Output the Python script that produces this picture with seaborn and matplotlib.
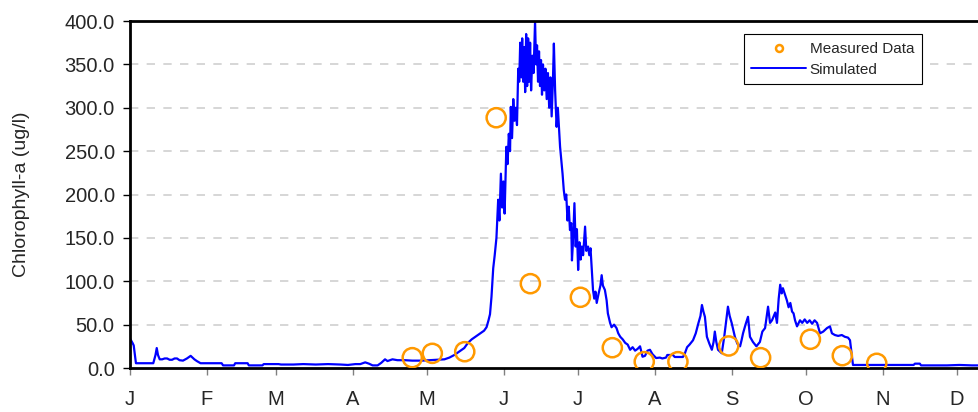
import numpy as np
import pandas as pd
import matplotlib
matplotlib.use("Agg")
import matplotlib.pyplot as plt
from matplotlib.lines import Line2D
from matplotlib.ticker import FormatStrFormatter
import seaborn as sns

# Month labels and day-of-year where each month starts
month_labels = ['J', 'F', 'M', 'A', 'M', 'J', 'J', 'A', 'S', 'O', 'N', 'D']
month_starts = [0, 31, 59, 90, 120, 151, 181, 212, 243, 273, 304, 334]

# Measured chlorophyll-a samples (day of year, ug/l)
meas_day = [114.0, 122.1, 135.2, 147.9, 161.7, 181.9, 194.8, 207.7, 221.3,
            241.8, 254.7, 274.8, 287.7, 301.6]
meas_val = [11.9, 16.9, 18.8, 288.5, 97.2, 81.5, 23.4, 7.3, 7.3,
            25.4, 11.9, 33.1, 14.2, 5.4]

# Simulated series (day of year, ug/l)
sim_day = [0, 1, 1.5, 2.4, 9.4, 10.3, 10.8, 11.3, 12, 13, 14, 15, 16, 17, 18, 19, 20,
           21.4, 23, 24.5, 26, 27, 28.5, 37, 37.6, 42, 42.5, 47.5, 48, 53.5, 54, 60, 61,
           66, 70, 75, 80, 85, 88, 91, 93, 95, 96.5, 98, 100, 101.5, 103, 104, 106, 108,
           111, 114, 118, 121, 124, 127, 129, 131, 133, 135, 136.5, 138, 140, 141.5, 143,
           144, 144.8, 145.4, 146, 146.7, 147.3, 148, 148.7, 149.2, 149.8, 150.3, 150.8,
           151.3, 152, 152.5, 153, 153.5, 153.8, 154.3, 154.8, 155.3, 155.8, 156.3, 156.8,
           157.2, 157.6, 158, 158.4, 158.8, 159.2, 159.6, 160, 160.4, 160.8, 161.2, 161.6,
           162, 162.5, 163, 163.6, 164, 164.4, 164.8, 165.2, 165.6, 166, 166.4, 166.8,
           167.3, 167.8, 168.3, 168.8, 169.3, 169.8, 170.3, 170.8, 171.2, 171.7, 172.3,
           172.8, 173.7, 174.7, 175.2, 175.7, 176.2, 176.7, 177.2, 177.7, 178.2, 178.5,
           179, 179.5, 180, 180.5, 181, 181.5, 182, 182.5, 183, 183.8, 184.3, 185, 185.5,
           186, 186.5, 187, 187.5, 188, 188.5, 189.2, 190, 190.5, 191, 191.8, 192.5, 193,
           193.9, 194.5, 195.5, 196.5, 197.2, 198, 199, 200, 201, 202, 203, 204, 205, 206,
           207, 208, 209, 210, 211, 212.5, 214, 215, 216.5, 217, 219.3, 220, 223.3, 224,
           225, 226, 227.4, 228.5, 229.6, 230.4, 231, 231.6, 232.2, 233, 234, 235, 235.7,
           236.2, 236.8, 237.5, 239, 240, 240.8, 241.5, 242.2, 243, 244.3, 245.3, 246.4,
           247, 247.6, 248.6, 249.6, 250.4, 251.6, 253, 254.4, 255.4, 256.5, 257.2, 257.7,
           258.5, 259.3, 260.6, 261.3, 262, 262.6, 263.2, 263.7, 264.5, 265.3, 266, 266.7,
           267.4, 268, 268.6, 269.4, 270.6, 271.5, 272.5, 273.5, 274.5, 275.5, 276.5,
           277.5, 278.7, 280, 281.5, 282.7, 283.5, 284.7, 286, 287.5, 288.7, 290, 290.8,
           292, 300, 316.5, 317, 319, 319.5, 330, 335, 340, 343]
sim_val = [34, 29, 26, 5.5, 5.5, 15, 23, 15, 10, 10, 11, 11, 9.5, 9.5, 11, 11, 9,
           8.5, 11, 14, 10, 8, 5.5, 5.5, 3, 3, 5.5, 5.5, 3, 3, 4.5, 4.5, 4,
           4, 4.5, 4, 4.5, 4, 3.5, 4.5, 4.5, 6.5, 5, 3, 3, 6, 10, 8, 10, 9,
           9, 8.5, 8.5, 9, 9.5, 10, 12, 15, 19, 23, 29, 33, 37, 40, 43,
           47, 55, 62, 82, 115, 130, 150, 194, 170, 224, 185, 215,
           178, 255, 235, 270, 250, 301, 265, 310, 285, 300, 280, 345,
           330, 375, 335, 380, 330, 370, 318, 385, 325, 380, 330, 375,
           320, 360, 340, 400, 350, 372, 330, 365, 325, 355, 315, 350,
           320, 345, 310, 340, 300, 335, 290, 330, 374, 320, 278,
           300, 255, 224, 205, 194, 200, 170, 186, 159, 167, 124,
           150, 190, 140, 160, 113, 145, 125, 140, 130, 163, 135, 140, 130,
           138, 113, 90, 80, 88, 75, 85, 95, 107, 95, 90, 78, 63,
           52, 47, 50, 46, 40, 36, 33, 29, 27, 21, 24, 20, 22, 25,
           13, 14, 20, 21, 16, 11.5, 12, 11, 12, 15, 15, 12.7, 12.7, 16,
           24, 27, 32, 40, 52, 60, 72.6, 65, 59, 36, 28, 21, 30,
           42, 30, 21, 17, 36, 55, 70.7, 60, 52, 36, 28, 25,
           32, 40, 50, 59, 36, 30, 25, 30, 42, 46, 60, 70.7,
           52, 55, 64, 52, 80, 96, 86, 92, 85, 78, 70, 75,
           65, 63, 55, 48, 55, 52, 56, 52, 55, 51, 55,
           52, 40, 42, 46, 48, 40, 38, 37, 38, 36, 35, 32,
           3.5, 3.5, 3.5, 5, 5, 3, 3, 3.5, 3, 3]

sim = pd.DataFrame({'day': sim_day, 'chl': sim_val})
meas = pd.DataFrame({'day': meas_day, 'chl': meas_val})

sns.set_style('white')
plt.rcParams['font.family'] = ['Liberation Sans', 'DejaVu Sans']

fig = plt.figure(figsize=(9.79, 4.12), dpi=100)
ax = fig.add_axes([130 / 979, 1 - 368 / 412, 849 / 979, 347 / 412])

# dashed horizontal gridlines
for yv in range(50, 400, 50):
    ax.axhline(yv, color='#d0d0d0', lw=1.2, ls=(0, (5, 5)), zorder=0)

sns.lineplot(data=sim, x='day', y='chl', ax=ax, color='#0000ff', lw=1.6,
             estimator=None, sort=False, zorder=2)
sns.scatterplot(data=meas, x='day', y='chl', ax=ax, marker='o', s=190,
                facecolor='none', edgecolor='#ff9900', linewidth=1.8, zorder=3)

ax.set_xlim(0, 342.9)
ax.set_ylim(0, 400)
ax.set_xticks(month_starts)
ax.set_xticklabels(month_labels)
ax.set_yticks(np.arange(0, 401, 50))
ax.yaxis.set_major_formatter(FormatStrFormatter('%.1f'))
ax.set_xlabel('')
ax.set_ylabel('Chlorophyll-a (ug/l)', fontsize=14)
ax.yaxis.set_label_coords(-0.118, 0.5)

ax.tick_params(axis='y', direction='out', length=5, width=1, color='black',
               labelsize=14.5, pad=6, left=True)
ax.tick_params(axis='x', direction='out', length=5, width=1, color='#808080',
               labelsize=14.5, pad=11, bottom=True)

for side in ['left', 'bottom', 'top']:
    ax.spines[side].set_color('black')
    ax.spines[side].set_linewidth(2)
ax.spines['right'].set_visible(False)

handles = [Line2D([], [], ls='none', marker='o', markersize=5, markerfacecolor='none',
                  markeredgecolor='#ff9900', markeredgewidth=1.8),
           Line2D([], [], color='#0000ff', lw=1.4)]
leg = ax.legend(handles, ['Measured Data', 'Simulated'], loc='upper right',
                bbox_to_anchor=(0.9325, 0.9617), borderaxespad=0, fontsize=11,
                frameon=True, fancybox=False, edgecolor='black', framealpha=1,
                handlelength=3.6, borderpad=0.5, labelspacing=0.45, handletextpad=0.2)
leg.get_frame().set_linewidth(0.8)

fig.savefig('out.png', dpi=100)
